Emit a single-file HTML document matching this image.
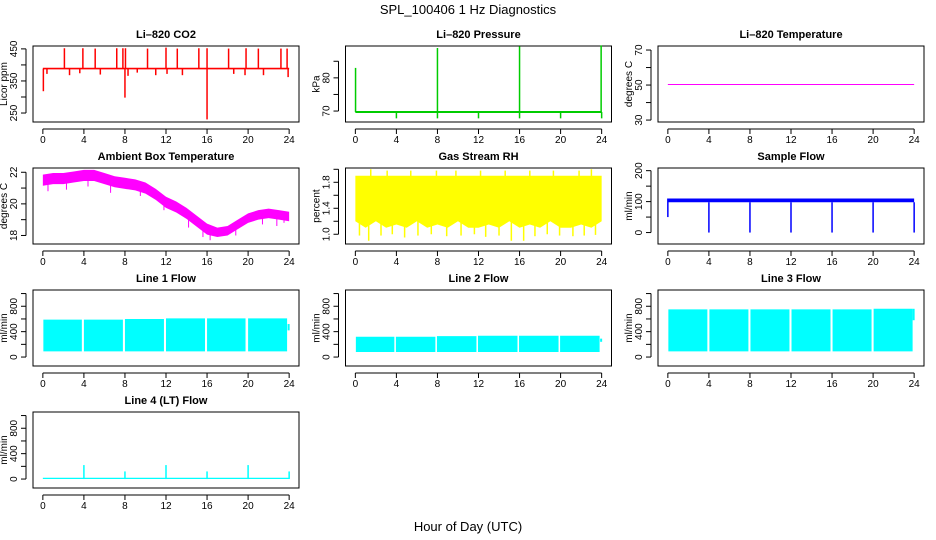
<!DOCTYPE html>
<html><head><meta charset="utf-8"><style>
body{margin:0;background:#fff}
svg{display:block;font-family:"Liberation Sans",sans-serif}
</style></head><body>
<svg id="c" width="936" height="540" viewBox="0 0 936 540">
<text x="468" y="14" text-anchor="middle" font-size="13">SPL_100406  1 Hz Diagnostics</text>
<text x="468" y="531" text-anchor="middle" font-size="13">Hour of Day (UTC)</text>
</svg>
<script>
const hours=[0,1,2,3,4,5,6,7,8,9,10,11,12,13,14,15,16,17,18,19,20,21,22,23,24];
const xTicks=[0,4,8,12,16,20,24];
// CO2
const co2Base=388;
const co2UpHours=[2.1,3.9,5.1,7.2,7.8,8.05,10.2,12,13.1,15.2,16.0,18.1,19.8,21,23.2,23.8];
const co2UpVals=[452,452,451,452,452,452,451,454,451,452,452,451,452,451,451,451];
const co2DownHours=[0.05,8.0,16.0,0.4,2.6,3.6,5.6,8.3,9.2,11.0,12.1,13.6,18.6,19.7,21.5,23.9];
const co2DownVals=[318,298,230,372,368,374,370,366,376,368,372,368,372,368,368,362];
// Pressure
const presBase=69.7;
const presUpHours=[0.02,8.0,16.0,23.95];
const presUpVals=[83,89,89.5,89.8];
const presDipHours=[4,8,12,16,20,24];
const presDipVals=[67.8,67.8,67.8,67.8,67.8,67.8];
// Li-820 temperature
const licorTemp=[50.3,50.3];
// Ambient box temperature (centre per hour)
const ambMid=[21.5,21.6,21.6,21.7,21.8,21.8,21.6,21.4,21.3,21.2,21.0,20.6,20.1,19.8,19.4,18.9,18.4,18.2,18.3,18.7,19.1,19.3,19.4,19.3,19.2];
const ambHalf=[0.35,0.35,0.35,0.35,0.35,0.35,0.35,0.35,0.35,0.35,0.35,0.35,0.35,0.35,0.35,0.35,0.35,0.3,0.3,0.3,0.3,0.3,0.3,0.3,0.3];
const ambSpikeHours=[0.5,2.3,4.4,6.6,9.5,11.8,14.2,15.6,16.3,18.8,21.4,22.8,23.5];
const ambSpikeVals=[20.8,20.9,21.1,20.7,20.5,19.6,18.5,17.9,17.7,18.0,18.7,18.6,18.8];
// RH
const rhHi=[1.9,1.9,1.9,1.9,1.9,1.9,1.9,1.9,1.9,1.9,1.9,1.9,1.9,1.9,1.9,1.9,1.9,1.9,1.9,1.9,1.9,1.9,1.9,1.9,1.9];
const rhLo=[1.2,1.1,1.2,1.1,1.15,1.1,1.2,1.1,1.15,1.1,1.2,1.1,1.1,1.15,1.1,1.2,1.1,1.15,1.1,1.2,1.1,1.1,1.15,1.1,1.2];
const rhLowSpikeHours=[0.4,1.3,2.5,3.6,4.8,6.1,7.4,8.9,10.3,11.6,12.7,14.0,15.2,16.4,17.5,18.7,19.9,21.2,22.3,23.4];
const rhLowSpikeVals=[0.98,0.9,0.98,1.0,0.95,0.98,1.0,0.97,0.98,1.0,0.96,0.98,0.9,0.9,0.97,1.0,0.98,0.97,0.98,0.99];
const rhHighSpikeHours=[1.5,3.1,5.4,7.9,9.8,12.2,14.6,17.0,19.3,21.8,23.0];
const rhHighSpikeVals=[2.0,1.98,1.98,1.98,1.98,1.98,1.98,1.98,1.98,1.98,2.0];
// Sample flow
const sfLo=98, sfHi=110;
const sfDipHours=[4,8,12,16,20,24];
const sfStart=50;
// Line flows: segments [start,end] and band lo/hi
const l1Seg=[[0.05,3.8],[4.0,7.8],[8.0,11.8],[12.0,15.8],[16.0,19.75],[20.0,23.8]];
const l1Lo=[90,90,90,90,90,90], l1Hi=[590,590,600,610,610,610];
const l2Seg=[[0.05,3.8],[3.95,7.8],[7.95,11.8],[11.95,15.8],[15.95,19.8],[19.95,23.8]];
const l2Lo=[80,80,80,80,80,80], l2Hi=[320,320,330,335,335,335];
const l3Seg=[[0.05,3.85],[4.05,7.85],[8.05,11.85],[12.05,15.85],[16.05,19.85],[20.05,23.85]];
const l3Lo=[90,90,90,90,90,90], l3Hi=[750,750,750,750,750,760];
const l4Base=[0,20];
const l4SpikeHours=[4,8,12,16,20,24];
const l4SpikeVals=[220,120,220,120,220,120];

const svg=document.getElementById('c');
const NS='http://www.w3.org/2000/svg';
function mk(tag,at,parent){const e=document.createElementNS(NS,tag);for(const k in at)e.setAttribute(k,at[k]);(parent||svg).appendChild(e);return e;}
const colL=[33,345.5,658], rowT=[46,168,290,412], W=266, H=76;

function panel(col,row,title,ylab,ylim,ticks,labels,name){
  const L=colL[col],T=rowT[row];
  const g=mk('g',{});
  
  
  const xs=h=>L+(h+0.96)/25.92*W;
  const ys=v=>T+H-(v-ylim[0])/(ylim[1]-ylim[0])*H;
  const t=mk('text',{x:L+W/2,y:T-8,'text-anchor':'middle','font-size':'11','font-weight':'bold'},g);t.textContent=title;
  
  const bx=mk('rect',{x:L,y:T,width:W,height:H,fill:'none',stroke:'#000','stroke-width':1},g);
  
  mk('line',{x1:xs(0),x2:xs(24),y1:T+H+7,y2:T+H+7,stroke:'#000'},g);
  xTicks.forEach(v=>{mk('line',{x1:xs(v),x2:xs(v),y1:T+H+7,y2:T+H+12,stroke:'#000'},g);
    const tl=mk('text',{x:xs(v),y:T+H+21,'text-anchor':'middle','font-size':'10'},g);tl.textContent=v;
    });
  mk('line',{x1:L-7,x2:L-7,y1:ys(ticks[0]),y2:ys(ticks[ticks.length-1]),stroke:'#000'},g);
  ticks.forEach(v=>{mk('line',{x1:L-12,x2:L-7,y1:ys(v),y2:ys(v),stroke:'#000'},g);});
  labels.forEach(v=>{const yy=ys(v);const tl=mk('text',{x:L-16,y:yy,'text-anchor':'middle','font-size':'10',transform:`rotate(-90 ${L-16} ${yy})`},g);tl.textContent=v;
    });
  const yl=mk('text',{x:L-26,y:T+H/2,'text-anchor':'middle','font-size':'10',transform:`rotate(-90 ${L-26} ${T+H/2})`},g);yl.textContent=ylab;
  
  return {g,xs,ys};
}
function vline(p,h,a,b,color,w){const l=mk('line',{x1:p.xs(h),x2:p.xs(h),y1:p.ys(a),y2:p.ys(b),stroke:color,'stroke-width':w||1.5},p.g);
  return l;}
function band(p,xs0,lo,hi,color,name){
  let d='M'+xs0.map((h,i)=>p.xs(h)+','+p.ys(hi[i])).join('L')+'L'+xs0.slice().reverse().map((h,i)=>p.xs(h)+','+p.ys(lo[lo.length-1-i])).join('L')+'Z';
  const e=mk('path',{d,fill:color,stroke:'none'},p.g);
  return e;}

// CO2
let p=panel(0,0,'Li\u2013820 CO2','Licor ppm',[222,459],[250,300,350,400,450],[250,350,450],'panel-co2');
band(p,[0,24],[co2Base-2,co2Base-2],[co2Base+3,co2Base+3],'#f00','co2-series');
co2UpHours.forEach((h,i)=>vline(p,h,co2Base,co2UpVals[i],'#f00'));
co2DownHours.forEach((h,i)=>vline(p,h,co2Base,co2DownVals[i],'#f00'));
// Pressure
p=panel(1,0,'Li\u2013820 Pressure','kPa',[66.7,89.6],[70,75,80,85],[70,80],'panel-pressure');
band(p,[0,24],[presBase-0.3,presBase-0.3],[presBase+0.3,presBase+0.3],'#0c0','pressure-series');
presUpHours.forEach((h,i)=>vline(p,h,presBase,presUpVals[i],'#0c0'));
presDipHours.forEach((h,i)=>vline(p,h,presBase,presDipVals[i],'#0c0'));
// Li-820 temp
p=panel(2,0,'Li\u2013820 Temperature','degrees C',[28.9,72.3],[30,40,50,60,70],[30,50,70],'panel-licor-temp');
{const l=mk('line',{x1:p.xs(0),x2:p.xs(24),y1:p.ys(licorTemp[0]),y2:p.ys(licorTemp[1]),stroke:'#f0f','stroke-width':1},p.g);
}
// Ambient
p=panel(0,1,'Ambient Box Temperature','degrees C',[17.46,22.27],[18,19,20,21,22],[18,20,22],'panel-ambient-temp');
band(p,hours,ambMid.map((m,i)=>m-ambHalf[i]),ambMid.map((m,i)=>m+ambHalf[i]),'#f0f','ambient-series');
ambSpikeHours.forEach((h,i)=>vline(p,h,ambMid[Math.round(h)],ambSpikeVals[i],'#f0f',1));
// RH
p=panel(1,1,'Gas Stream RH','percent',[0.85,2.02],[1.0,1.2,1.4,1.6,1.8,2.0],['1.0','1.4','1.8'],'panel-rh');
band(p,hours,rhLo,rhHi,'#ff0','rh-series');
rhLowSpikeHours.forEach((h,i)=>vline(p,h,1.5,rhLowSpikeVals[i],'#ff0',1.5));
rhHighSpikeHours.forEach((h,i)=>vline(p,h,1.8,rhHighSpikeVals[i],'#ff0',1.5));
// Sample flow
p=panel(2,1,'Sample Flow','ml/min',[-37,208.6],[0,50,100,150,200],[0,100,200],'panel-sample-flow');
band(p,[0,24],[sfLo,sfLo],[sfHi,sfHi],'#00f','sample-flow-series');
vline(p,0,sfStart,sfHi,'#00f');
sfDipHours.forEach(h=>vline(p,h,0,sfLo,'#00f'));
// Line flows
const fl=[-141,1056],ft=[0,200,400,600,800,1000],flb=[0,400,800];
function segs(p,seg,lo,hi,name){seg.forEach((s,i)=>band(p,s,[lo[i],lo[i]],[hi[i],hi[i]],'#0ff',name));}
p=panel(0,2,'Line 1 Flow','ml/min',fl,ft,flb,'panel-line1');
segs(p,l1Seg,l1Lo,l1Hi,'line1-series');vline(p,23.95,420,520,'#0ff',2);
p=panel(1,2,'Line 2 Flow','ml/min',fl,ft,flb,'panel-line2');
segs(p,l2Seg,l2Lo,l2Hi,'line2-series');vline(p,23.95,240,290,'#0ff',2);
p=panel(2,2,'Line 3 Flow','ml/min',fl,ft,flb,'panel-line3');
segs(p,l3Seg,l3Lo,l3Hi,'line3-series');vline(p,23.95,580,760,'#0ff',2);
p=panel(0,3,'Line 4 (LT) Flow','ml/min',fl,ft,flb,'panel-line4');
band(p,[0,24],[l4Base[0],l4Base[0]],[l4Base[1],l4Base[1]],'#0ff','line4-series');
l4SpikeHours.forEach((h,i)=>vline(p,h,0,l4SpikeVals[i],'#0ff'));
</script>
</body></html>
